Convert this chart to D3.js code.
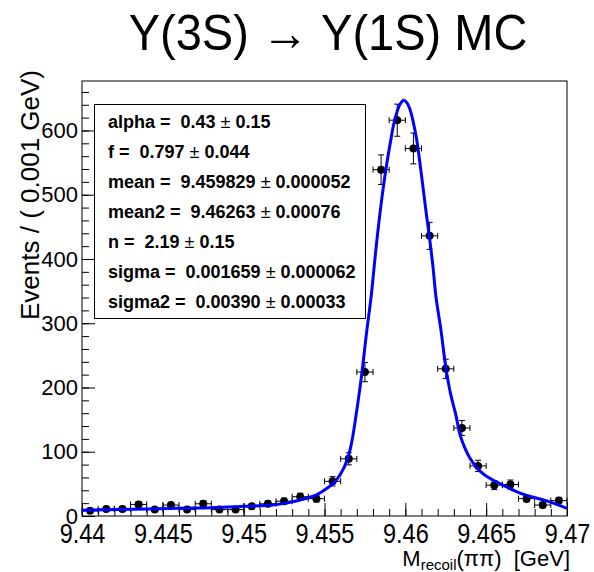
<!DOCTYPE html>
<html>
<head>
<meta charset="utf-8">
<script src="https://cdn.jsdelivr.net/npm/d3@7"></script>
<style>
  body { margin: 0; background: #fff; }
  text { font-family: "Liberation Sans", Arial, sans-serif; white-space: pre; }
</style>
</head>
<body>
<svg id="chart" width="594" height="572"></svg>
<script>
// bin centres (bin width 0.001 GeV)
var binCenters = [9.4405, 9.4415, 9.4425, 9.4435, 9.4445, 9.4455, 9.4465, 9.4475, 9.4485, 9.4495,
                  9.4505, 9.4515, 9.4525, 9.4535, 9.4545, 9.4555, 9.4565, 9.4575, 9.4585, 9.4595,
                  9.4605, 9.4615, 9.4625, 9.4635, 9.4645, 9.4655, 9.4665, 9.4675, 9.4685, 9.4695];
var counts = [8, 11, 11, 18, 10, 17, 10, 19, 10, 10,
              15, 19, 23, 30, 27, 54, 89, 224, 539, 616,
              572, 436, 229, 137, 78, 48, 49, 27, 17, 24];
var errors = [3, 3.3, 3.3, 4.2, 3.2, 4.1, 3.2, 4.4, 3.2, 3.2,
              3.9, 4.4, 4.8, 5.5, 5.2, 7.3, 9.4, 15, 23, 25,
              24, 21, 15, 11.7, 8.8, 6.9, 7, 5.2, 4.1, 4.9];

// fitted curve
var curveX = [9.4400, 9.4440, 9.4460, 9.4480, 9.4500, 9.4518, 9.4528, 9.4535, 9.4545, 9.4552,
              9.4557, 9.4562, 9.4566, 9.4570, 9.4573, 9.4576, 9.4579, 9.4582, 9.4585, 9.4588,
              9.4591, 9.4593, 9.4595, 9.4597, 9.4599, 9.4601, 9.4603, 9.4605, 9.4607, 9.4609,
              9.4611, 9.4613, 9.4615, 9.4617, 9.4619, 9.4622, 9.4625, 9.4628, 9.4631, 9.4634,
              9.4637, 9.4640, 9.4644, 9.4648, 9.4652, 9.4658, 9.4663, 9.4667, 9.4675, 9.4687, 9.4700];
var curveY = [9, 11, 12, 13, 15, 17, 21, 25, 33, 44,
              55, 75, 105, 165, 220, 285, 345, 420, 485, 540,
              585, 612, 630, 642, 647, 643, 632, 612, 586, 550,
              510, 470, 432, 390, 340, 290, 232, 190, 160, 125,
              105, 90, 76, 66, 59, 51, 45, 40, 32, 24, 12];

var majorX = [9.44, 9.445, 9.45, 9.455, 9.46, 9.465, 9.47];
var xTickLabels = ["9.44", "9.445", "9.45", "9.455", "9.46", "9.465", "9.47"];
var majorY = [0, 100, 200, 300, 400, 500, 600];

var parNames = ["alpha", "f", "mean", "mean2", "n", "sigma", "sigma2"];
var parValues = ["0.43", "0.797", "9.459829", "9.46263", "2.19", "0.001659", "0.00390"];
var parErrors = ["0.15", "0.044", "0.000052", "0.00076", "0.15", "0.000062", "0.00033"];

var svg = d3.select("#chart");
var mLeft = 82, mRight = 567, mTop = 81, mBottom = 516;

var x = d3.scaleLinear().domain([9.44, 9.47]).range([mLeft, mRight]);
var y = d3.scaleLinear().domain([0, 677]).range([mBottom, mTop]);

// title
svg.append("text")
    .attr("transform", "translate(328,50) scale(1,1.06)")
    .attr("text-anchor", "middle")
    .style("font-size", "47px")
    .text("\u03A5(3S) \u2192 \u03A5(1S) MC");

// frame
svg.append("rect")
    .attr("x", mLeft).attr("y", mTop)
    .attr("width", mRight - mLeft).attr("height", mBottom - mTop)
    .attr("fill", "none").attr("stroke", "#000").attr("stroke-width", 1);

// y axis
var yMinor = d3.range(0, 677, 20);
svg.append("g")
    .attr("transform", "translate(" + mLeft + ",0)")
    .call(d3.axisLeft(y).tickValues(yMinor).tickSize(-7).tickFormat(""))
    .call(function (g) { g.select(".domain").remove(); });
svg.append("g")
    .attr("class", "yaxis")
    .attr("transform", "translate(" + mLeft + ",0)")
    .call(d3.axisLeft(y).tickValues(majorY).tickSize(-13).tickPadding(4).tickFormat(d3.format("d")))
    .call(function (g) { g.select(".domain").remove(); });
svg.selectAll(".yaxis text").style("font-size", "22px").attr("fill", "#000");

// x axis
var xMinor = d3.range(0, 31).map(function (i) { return 9.44 + i * 0.001; });
svg.append("g")
    .attr("transform", "translate(0," + mBottom + ")")
    .call(d3.axisBottom(x).tickValues(xMinor).tickSize(-7).tickFormat(""))
    .call(function (g) { g.select(".domain").remove(); });
svg.append("g")
    .attr("class", "xaxis")
    .attr("transform", "translate(0," + mBottom + ")")
    .call(d3.axisBottom(x).tickValues(majorX).tickSize(-13).tickPadding(4)
        .tickFormat(function (d, i) { return xTickLabels[i]; }))
    .call(function (g) { g.select(".domain").remove(); });
svg.selectAll(".xaxis text")
    .attr("y", 0).attr("dy", 0)
    .attr("transform", "translate(0,27) scale(1,1.15)")
    .style("font-size", "23.5px").attr("fill", "#000");
svg.selectAll(".tick line").attr("stroke", "#000");

// axis titles
svg.append("text")
    .attr("transform", "translate(39,70) rotate(-90)")
    .attr("text-anchor", "end")
    .style("font-size", "26px")
    .text("Events / ( 0.001 GeV)");

var xt = svg.append("text")
    .attr("x", mRight + 3).attr("y", 566)
    .attr("text-anchor", "end")
    .style("font-size", "22px");
xt.append("tspan").text("M");
xt.append("tspan").attr("dy", 4).style("font-size", "15px").text("recoil");
xt.append("tspan").attr("dy", -4).text("(\u03C0\u03C0)  [GeV]");

// data points with error bars
var pts = svg.append("g");
var halfBin = 0.0005;
var cap = 3;
binCenters.forEach(function (c, i) {
    var cx = x(c), cy = y(counts[i]);
    var x0 = x(c - halfBin), x1 = x(c + halfBin);
    var y0 = y(counts[i] - errors[i]), y1 = y(counts[i] + errors[i]);
    var g = pts.append("g").attr("stroke", "#000").attr("stroke-width", 1);
    g.append("line").attr("x1", x0).attr("x2", x1).attr("y1", cy).attr("y2", cy);
    g.append("line").attr("x1", x0).attr("x2", x0).attr("y1", cy - cap).attr("y2", cy + cap);
    g.append("line").attr("x1", x1).attr("x2", x1).attr("y1", cy - cap).attr("y2", cy + cap);
    g.append("line").attr("x1", cx).attr("x2", cx).attr("y1", y0).attr("y2", y1);
    g.append("line").attr("x1", cx - cap).attr("x2", cx + cap).attr("y1", y0).attr("y2", y0);
    g.append("line").attr("x1", cx - cap).attr("x2", cx + cap).attr("y1", y1).attr("y2", y1);
});
pts.selectAll("circle")
    .data(binCenters)
    .enter()
    .append("circle")
    .attr("cx", function (d) { return x(d); })
    .attr("cy", function (d, i) { return y(counts[i]); })
    .attr("r", 4)
    .attr("fill", "#000");

// fit curve
var line = d3.line()
    .x(function (d) { return x(d[0]); })
    .y(function (d) { return y(d[1]); })
    .curve(d3.curveCatmullRom);
svg.append("path")
    .datum(curveX.map(function (d, i) { return [d, curveY[i]]; }))
    .attr("d", line)
    .attr("fill", "none")
    .attr("stroke", "#0000ff")
    .attr("stroke-width", 3);

// parameter box
svg.append("rect")
    .attr("x", 94.5).attr("y", 104.5)
    .attr("width", 271).attr("height", 214)
    .attr("fill", "#fff").attr("stroke", "#000").attr("stroke-width", 1);
parNames.forEach(function (p, i) {
    var t = svg.append("text")
        .attr("x", 108).attr("y", 128 + i * 30)
        .style("font-size", "18px").style("font-weight", "bold");
    t.append("tspan").text(p + " =  " + parValues[i] + " ");
    t.append("tspan").style("font-weight", "normal").text("\u00B1");
    t.append("tspan").text(" " + parErrors[i]);
});
</script>
</body>
</html>
